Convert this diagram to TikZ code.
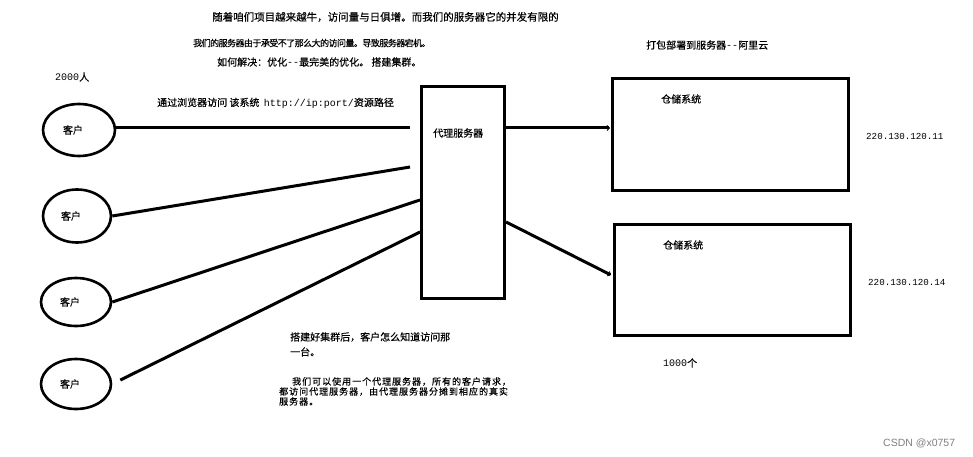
\documentclass[tikz,border=0pt]{standalone}
\usepackage{fontspec}
\newfontfamily\cjk[FakeBold=0.4]{Noto Sans CJK SC}
\newfontfamily\lat{Liberation Mono}
\newfontfamily\wm{Liberation Sans}
\usetikzlibrary{shapes.geometric,arrows.meta}

\begin{document}
\begin{tikzpicture}[x=1pt,y=-1pt,
  client/.style={draw,ellipse,line width=2.6pt,inner sep=0pt,
    font=\cjk\fontsize{10}{12}\selectfont,execute at end node=\hspace*{12pt}},
  srv/.style={draw,rectangle,line width=3.2pt,inner sep=0pt},
  wire/.style={line width=3pt},
  tip/.style={-{Straight Barb[length=2.5pt,width=5pt,line width=0.8pt]}},
  txt/.style={anchor=west,inner sep=0pt,font=\cjk\fontsize{10}{12}\selectfont},
  num/.style={anchor=west,inner sep=0pt,font=\lat\fontsize{9.2}{11}\selectfont}]
  % page
  \fill[white] (0,0) rectangle (973,457);
  \useasboundingbox (0,0) rectangle (973,457);
  % notes on top
  \node[txt,font=\cjk\fontsize{10.5}{12}\selectfont] (note1) at (212,17) {随着咱们项目越来越牛，访问量与日俱增。而我们的服务器它的并发有限的};
  \node[txt,font=\cjk\fontsize{9}{12}\selectfont\addfontfeatures{LetterSpace=-6}] (note2) at (193,43) {我们的服务器由于承受不了那么大的访问量。导致服务器宕机。};
  \node[txt] (note3) at (217,62) {如何解决：优化{\lat --}最完美的优化。 搭建集群。};
  \node[txt] (users) at (55,77) {{\lat 2000}人};
  \node[txt] (via) at (157,103) {通过浏览器访问 该系统\ \ {\lat http://ip:port/}资源路径};
  % clients
  \node[client,minimum width=72pt,minimum height=52pt] (c1) at (79,130) {客户};
  \node[client,minimum width=68pt,minimum height=53pt] (c2) at (77,216) {客户};
  \node[client,minimum width=70pt,minimum height=48pt] (c3) at (76,302) {客户};
  \node[client,minimum width=70pt,minimum height=50pt] (c4) at (76,384) {客户};
  % proxy server
  \node[srv,minimum width=83pt,minimum height=212pt] (proxy) at (463,192.5) {};
  \node[txt] (proxylbl) at (433,133) {代理服务器};
  % clients to proxy
  \coordinate (p1) at (410,128);
  \coordinate (p2) at (410,167);
  \coordinate (p3) at (420,200);
  \coordinate (p4) at (420,232);
  \draw[wire] (c1.east |- p1) -- (p1);
  \draw[wire] (c2.east) -- (p2);
  \draw[wire] (c3.east) -- (p3);
  \draw[wire,shorten <=9pt] (c4.east) -- (p4);
  % real servers
  \node[txt] (deploy) at (646,45) {打包部署到服务器{\lat --}阿里云};
  \node[srv,minimum width=236pt,minimum height=112pt] (s1) at (730.5,134.5) {};
  \node[srv,minimum width=236pt,minimum height=111pt] (s2) at (732.5,280) {};
  \node[txt] (s1lbl) at (661,99) {仓储系统};
  \node[txt] (s2lbl) at (663,245) {仓储系统};
  \node[num] (ip1) at (866,136) {220.130.120.11};
  \node[num] (ip2) at (868,282) {220.130.120.14};
  \node[txt] (count) at (663,363) {{\lat 1000}个};
  % proxy to servers
  \coordinate (in1) at (610,128);
  \coordinate (out2) at (506,222);
  \coordinate (in2) at (611,275);
  \draw[wire,tip] (proxy.east |- in1) -- (in1);
  \draw[wire,tip] (proxy.east |- out2) -- (in2);
  % notes below
  \node[txt,anchor=north west,align=left,font=\cjk\fontsize{10}{15}\selectfont] (ask) at (290,332)
    {搭建好集群后，客户怎么知道访问那\\一台。};
  \node[txt,anchor=north west,align=left,font=\cjk\fontsize{9}{10}\selectfont\addfontfeatures{LetterSpace=11}] (answer) at (279,377)
    {\hspace*{13pt}我们可以使用一个代理服务器，所有的客户请求，\\都访问代理服务器，由代理服务器分摊到相应的真实\\服务器。};
  \node[anchor=west,inner sep=0pt,font=\wm\fontsize{10.5}{12}\selectfont,text=gray] (mark) at (883,443) {CSDN @x0757};
\end{tikzpicture}
\end{document}
